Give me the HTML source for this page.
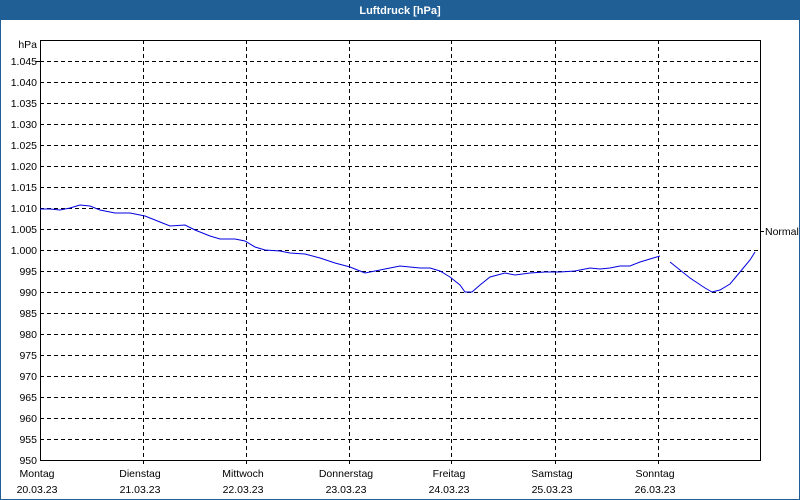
<!DOCTYPE html>
<html><head><style>
body{margin:0;background:#fff;}
svg{display:block;font-family:"Liberation Sans",sans-serif;}
</style></head><body>
<svg width="800" height="500" xmlns="http://www.w3.org/2000/svg">
<rect x="0" y="0" width="800" height="500" fill="#fff"/>
<rect x="0.5" y="0.5" width="799" height="499" fill="none" stroke="#1f5f96"/>
<rect x="0" y="0" width="800" height="20" fill="#1f5f96"/>
<text x="400" y="14" fill="#fff" font-size="11" font-weight="bold" text-anchor="middle">Luftdruck [hPa]</text>
<g stroke="#000" stroke-width="1" stroke-dasharray="4,3" shape-rendering="crispEdges">
<line x1="40" x2="760" y1="61.5" y2="61.5"/><line x1="40" x2="760" y1="82.5" y2="82.5"/><line x1="40" x2="760" y1="103.5" y2="103.5"/><line x1="40" x2="760" y1="124.5" y2="124.5"/><line x1="40" x2="760" y1="145.5" y2="145.5"/><line x1="40" x2="760" y1="166.5" y2="166.5"/><line x1="40" x2="760" y1="187.5" y2="187.5"/><line x1="40" x2="760" y1="208.5" y2="208.5"/><line x1="40" x2="760" y1="229.5" y2="229.5"/><line x1="40" x2="760" y1="250.5" y2="250.5"/><line x1="40" x2="760" y1="271.5" y2="271.5"/><line x1="40" x2="760" y1="292.5" y2="292.5"/><line x1="40" x2="760" y1="313.5" y2="313.5"/><line x1="40" x2="760" y1="334.5" y2="334.5"/><line x1="40" x2="760" y1="355.5" y2="355.5"/><line x1="40" x2="760" y1="376.5" y2="376.5"/><line x1="40" x2="760" y1="397.5" y2="397.5"/><line x1="40" x2="760" y1="418.5" y2="418.5"/><line x1="40" x2="760" y1="439.5" y2="439.5"/>
<line x1="143.5" x2="143.5" y1="40" y2="465"/><line x1="246.5" x2="246.5" y1="40" y2="465"/><line x1="349.5" x2="349.5" y1="40" y2="465"/><line x1="451.5" x2="451.5" y1="40" y2="465"/><line x1="555.5" x2="555.5" y1="40" y2="465"/><line x1="658.5" x2="658.5" y1="40" y2="465"/>
</g>
<g stroke="#000" fill="none" shape-rendering="crispEdges">
<polyline points="40.5,40 40.5,460.5 760.5,460.5 760.5,40"/>
<line x1="40" x2="760" y1="40.5" y2="40.5"/>
<line x1="36" x2="40" y1="61.5" y2="61.5"/>
<line x1="760" x2="764" y1="231.5" y2="231.5"/>
</g>
<g font-size="10.5" fill="#000" text-anchor="end">
<text x="37" y="48">hPa</text>
<text x="37" y="65">1.045</text><text x="37" y="86">1.040</text><text x="37" y="107">1.035</text><text x="37" y="128">1.030</text><text x="37" y="149">1.025</text><text x="37" y="170">1.020</text><text x="37" y="191">1.015</text><text x="37" y="212">1.010</text><text x="37" y="233">1.005</text><text x="37" y="254">1.000</text><text x="37" y="275">995</text><text x="37" y="296">990</text><text x="37" y="317">985</text><text x="37" y="338">980</text><text x="37" y="359">975</text><text x="37" y="380">970</text><text x="37" y="401">965</text><text x="37" y="422">960</text><text x="37" y="443">955</text><text x="37" y="464">950</text>
</g>
<text x="765" y="235" font-size="10.5">Normal</text>
<g font-size="10.5" fill="#000" text-anchor="middle">
<text x="37" y="477">Montag</text><text x="37" y="493">20.03.23</text>
<text x="140" y="477">Dienstag</text><text x="140" y="493">21.03.23</text>
<text x="243" y="477">Mittwoch</text><text x="243" y="493">22.03.23</text>
<text x="346" y="477">Donnerstag</text><text x="346" y="493">23.03.23</text>
<text x="449" y="477">Freitag</text><text x="449" y="493">24.03.23</text>
<text x="552" y="477">Samstag</text><text x="552" y="493">25.03.23</text>
<text x="655" y="477">Sonntag</text><text x="655" y="493">26.03.23</text>
</g>
<g fill="none" stroke="#0000e0" stroke-width="1">
<polyline points="40,209 50,209 60,210 70,208 80,205 90,206 100,210 115,213 130,213 145,216 160,222 170,226 185,225 195,230 210,236 220,239 235,239 245,241 255,247 265,250 280,251 290,253 305,254 320,258 335,263 350,267 365,273 375,271 385,269 400,266 410,267 420,268 430,268 440,271 450,277 460,285 465,292 472,292 480,285 490,277 505,273 515,275 530,273 545,272 560,272 575,271 590,268 600,269 610,268 620,266 630,266 640,262 650,259 660,256"/>
<polyline points="670,262 680,270 690,278 705,288 712,292 720,290 730,284 740,272 750,260 755,252"/>
</g>
</svg>
</body></html>
